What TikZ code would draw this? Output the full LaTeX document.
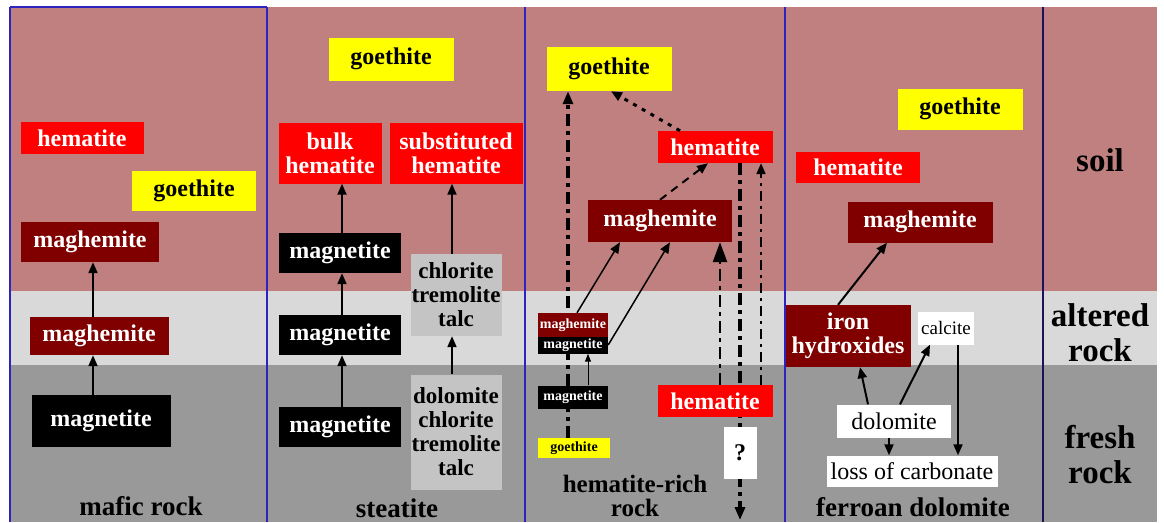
\documentclass[tikz,border=0pt]{standalone}
\usepackage{fontspec}
\setmainfont{Liberation Serif}
\usetikzlibrary{arrows.meta}

\definecolor{soilc}{RGB}{192,128,128}
\definecolor{altc}{RGB}{217,217,217}
\definecolor{freshc}{RGB}{153,153,153}
\definecolor{hemc}{RGB}{255,0,0}
\definecolor{mghc}{RGB}{128,0,0}
\definecolor{goec}{RGB}{255,255,0}
\definecolor{silc}{RGB}{196,196,196}
\definecolor{linec}{RGB}{45,35,190}
\definecolor{navyc}{RGB}{25,20,90}

\pgfdeclarelayer{back}
\pgfsetlayers{back,main}

\tikzset{sz/.style 2 args={minimum width=#1pt,minimum height=#2pt}}

\begin{document}
\begin{tikzpicture}[x=1pt,y=-1pt,>={Triangle[length=11pt,width=9pt]},
    box/.style={inner sep=0pt,align=center,font=\bfseries\fontsize{24}{24}\selectfont},
    small/.style={font=\bfseries\fontsize{14}{14}\selectfont},
    hem node/.style={box,fill=hemc,text=white},
    mgh node/.style={box,fill=mghc,text=white},
    mgt node/.style={box,fill=black,text=white},
    goe node/.style={box,fill=goec,text=black},
    sil node/.style={box,fill=silc,text=black,font=\bfseries\fontsize{23}{24}\selectfont},
    white node/.style={box,fill=white,text=black,font=\fontsize{24}{24}\selectfont},
    rock label/.style={align=center,font=\bfseries\fontsize{27}{25}\selectfont},
    zone label/.style={align=center,font=\bfseries\fontsize{33}{35}\selectfont},
    up/.style={->,line width=2pt},
    dashdot/.style={dash pattern=on 12pt off 5pt on 4pt off 5pt}]

  \useasboundingbox (0,0) rectangle (1164,522);
  \begin{pgfonlayer}{back}
    \fill[soilc] (10,7) rectangle (1157,291);
    \fill[altc] (10,291) rectangle (1157,365);
    \fill[freshc] (10,365) rectangle (1157,522);
    \foreach \x in {10,267,525,785}
      \draw[linec,line width=2pt] (\x,7) -- (\x,522);
    \draw[linec,line width=2pt] (10,7) -- (267,7);
    \draw[navyc,line width=2pt] (1043,7) -- (1043,522);
  \end{pgfonlayer}

  \node[hem node,sz={123}{32}] (c1hem) at (82,138) {hematite};
  \node[goe node,sz={124}{40}] (c1goe) at (194,191) {goethite};
  \node[mgh node,sz={138}{40}] (c1mgh) at (90,242) {maghemite};
  \node[mgh node,sz={139}{38}] (c1mgh2) at (99,336) {maghemite};
  \node[mgt node,sz={139}{52}] (c1mgt) at (101,421) {magnetite};
  \node[rock label] (c1lbl) at (141,506) {mafic rock};

  \node[goe node,sz={125}{43}] (c2goe) at (391,59) {goethite};
  \node[hem node,sz={103}{61}] (c2bulk) at (330,153) {bulk\\hematite};
  \node[hem node,sz={133}{61}] (c2sub) at (456,153) {substituted\\hematite};
  \node[mgt node,sz={122}{40}] (c2mgt) at (340,253) {magnetite};
  \node[sil node,sz={91}{82}] (c2chl) at (456,295) {chlorite\\tremolite\\talc};
  \node[mgt node,sz={122}{40}] (c2mgt2) at (340,335) {magnetite};
  \node[mgt node,sz={122}{40}] (c2mgt3) at (340,427) {magnetite};
  \node[sil node,sz={91}{115}] (c2dol) at (456,432) {dolomite\\chlorite\\tremolite\\talc};
  \node[rock label] (c2lbl) at (397,508) {steatite};

  \node[goe node,sz={125}{44}] (c3goe) at (609,69) {goethite};
  \node[hem node,sz={115}{32}] (c3hem) at (715,147) {hematite};
  \node[mgh node,sz={144}{42}] (c3mgh) at (660,221) {maghemite};
  \node[mgh node,small,sz={70}{24}] (c3smgh) at (573,325) {maghemite};
  \node[mgt node,small,sz={70}{17}] (c3smgt) at (573,345) {magnetite};
  \node[mgt node,small,sz={70}{23}] (c3smgt2) at (573,397) {magnetite};
  \node[goe node,small,sz={72}{20}] (c3sgoe) at (574,448) {goethite};
  \node[hem node,sz={115}{32}] (c3hem2) at (715,401) {hematite};
  \node[white node,font=\bfseries\fontsize{24}{24}\selectfont,sz={33}{52}] (c3q) at (740,453) {?};
  \coordinate (c3end) at (740,520);
  \node[rock label,font=\bfseries\fontsize{25}{24}\selectfont] (c3lbl) at (635,496) {hematite-rich\\rock};

  \node[goe node,sz={125}{41}] (c4goe) at (960,109) {goethite};
  \node[hem node,sz={124}{31}] (c4hem) at (858,167) {hematite};
  \node[mgh node,sz={145}{41}] (c4mgh) at (920,222) {maghemite};
  \node[mgh node,sz={125}{62}] (c4iron) at (848,336) {iron\\hydroxides};
  \node[white node,font=\fontsize{19}{19}\selectfont,sz={56}{33}] (c4cal) at (946,328) {calcite};
  \node[white node,sz={114}{33}] (c4dol) at (894,421) {dolomite};
  \node[white node,sz={171}{31}] (c4loss) at (912,471) {loss of carbonate};
  \node[rock label] (c4lbl) at (913,507) {ferroan dolomite};

  \node[zone label] (soil) at (1100,160) {soil};
  \node[zone label] (alt) at (1100,333) {altered\\rock};
  \node[zone label] (fresh) at (1100,455) {fresh\\rock};

  \begin{pgfonlayer}{back}
    \path[->,line width=3.5pt,dashdot,>={Triangle[length=13pt,width=10pt]}]
      ([xshift=-6pt]c3sgoe.north) edge ([xshift=-41pt]c3goe.south)
      (c3q |- c3hem.south) edge (c3end);
  \end{pgfonlayer}

  \path[up]
    ([xshift=-8pt]c1mgt.north) edge ([xshift=-6pt]c1mgh2.south)
    ([xshift=-6pt]c1mgh2.north) edge ([xshift=3pt]c1mgh.south)
    ([xshift=2pt]c2mgt3.north) edge ([xshift=2pt]c2mgt2.south)
    ([xshift=2pt]c2mgt2.north) edge ([xshift=2pt]c2mgt.south)
    ([xshift=2pt]c2mgt.north) edge ([xshift=12pt]c2bulk.south)
    ([xshift=-4pt]c2dol.north) edge ([xshift=-4pt]c2chl.south)
    ([xshift=-4pt]c2chl.north) edge ([xshift=-4pt]c2sub.south)
    ([xshift=-10pt]c4iron.north) edge ([xshift=-33pt]c4mgh.south)
    ([xshift=-26pt]c4dol.north) edge ([xshift=12pt]c4iron.south)
    ([xshift=6pt]c4dol.north) edge ([xshift=-16pt]c4cal.south)
    ([xshift=-5pt]c4dol.south) edge ([xshift=-23pt]c4loss.north)
    ([xshift=12pt]c4cal.south) edge ([xshift=46pt]c4loss.north);

  \path[->,line width=1.5pt]
    ([xshift=4pt]c3smgh.north) edge ([xshift=-40pt]c3mgh.south)
    (c3smgt.east) edge ([xshift=10pt]c3mgh.south);
  \path[->,line width=1pt,>={Triangle[length=8pt,width=6pt]}]
    ([xshift=15pt]c3smgt2.north) edge ([xshift=15pt]c3smgt.south);
  \path[->,line width=3pt,dash pattern=on 4pt off 6pt]
    ([xshift=-35pt]c3hem.north) edge ([xshift=2pt]c3goe.south);
  \path[->,line width=2pt,dash pattern=on 8pt off 6pt]
    (c3mgh.north) edge ([xshift=-7pt]c3hem.south);
  \path[->,line width=2.5pt,dashdot,>={Triangle[length=20pt,width=14pt]}]
    ([xshift=5pt]c3hem2.north) edge ([xshift=60pt]c3mgh.south);
  \path[->,line width=2pt,dash pattern=on 10pt off 5pt on 3pt off 5pt]
    ([xshift=46pt]c3hem2.north) edge ([xshift=46pt]c3hem.south);
\end{tikzpicture}
\end{document}
